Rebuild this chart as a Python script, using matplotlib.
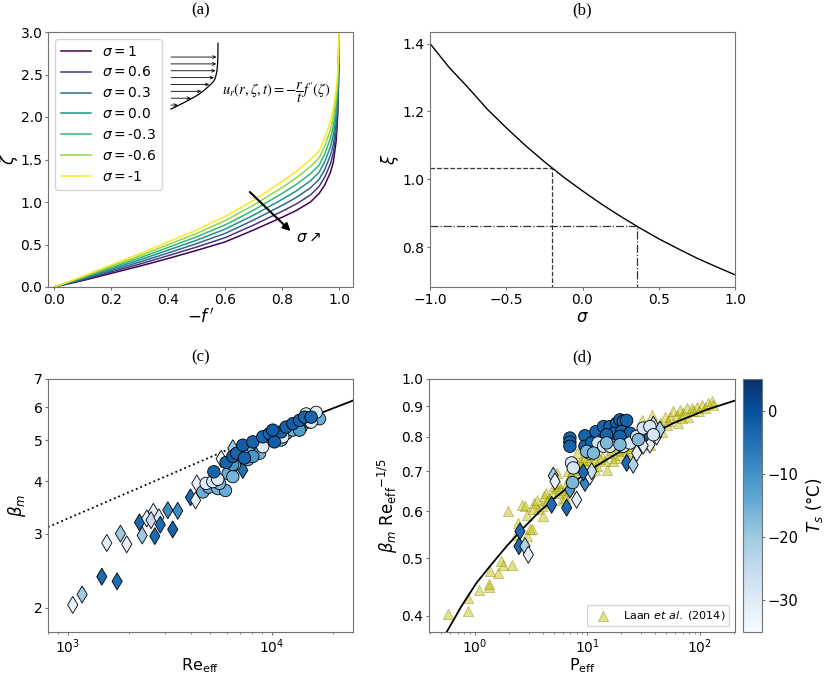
import numpy as np
import matplotlib
matplotlib.use("Agg")
import matplotlib.pyplot as plt
from matplotlib import colors, ticker, cm

# (a) self-similar profiles: -f' on the x axis, zeta for each sigma
mfp = [0, 0.1, 0.2, 0.3, 0.4, 0.5, 0.6, 0.7, 0.8, 0.85, 0.9, 0.93, 0.95, 0.97, 0.98, 0.99, 0.995, 0.998, 1.0]
sigma_labels = ["1", "0.6", "0.3", "0.0", "-0.3", "-0.6", "-1"]
zeta_curves = [
    [0, 0.075, 0.160, 0.245, 0.335, 0.43, 0.53, 0.670, 0.82, 0.900, 1.000, 1.100, 1.200, 1.35, 1.470, 1.72, 2.000, 2.360, 3.0],
    [0, 0.083, 0.177, 0.269, 0.368, 0.47, 0.58, 0.728, 0.89, 0.977, 1.083, 1.183, 1.292, 1.45, 1.575, 1.82, 2.083, 2.425, 3.0],
    [0, 0.092, 0.193, 0.293, 0.400, 0.51, 0.63, 0.787, 0.96, 1.053, 1.167, 1.267, 1.383, 1.55, 1.680, 1.92, 2.167, 2.490, 3.0],
    [0, 0.100, 0.210, 0.318, 0.433, 0.55, 0.68, 0.845, 1.03, 1.130, 1.250, 1.350, 1.475, 1.65, 1.785, 2.02, 2.250, 2.555, 3.0],
    [0, 0.108, 0.227, 0.342, 0.465, 0.59, 0.73, 0.903, 1.10, 1.207, 1.333, 1.433, 1.567, 1.75, 1.890, 2.12, 2.333, 2.620, 3.0],
    [0, 0.117, 0.243, 0.366, 0.498, 0.63, 0.78, 0.962, 1.17, 1.283, 1.417, 1.517, 1.658, 1.85, 1.995, 2.22, 2.417, 2.685, 3.0],
    [0, 0.125, 0.260, 0.390, 0.530, 0.67, 0.83, 1.020, 1.24, 1.360, 1.500, 1.600, 1.750, 1.95, 2.100, 2.32, 2.500, 2.750, 3.0],
]

# (b) xi as a function of sigma
sigma_b = [-1, -0.875, -0.75, -0.625, -0.5, -0.375, -0.25, -0.125, 0, 0.125, 0.25, 0.375, 0.5, 0.625, 0.75, 0.875, 1]
xi_b = [1.400, 1.330, 1.270, 1.207, 1.152, 1.100, 1.052, 1.007, 0.966, 0.927, 0.891, 0.857, 0.825, 0.796, 0.768, 0.743, 0.719]
sigma_marks = [-0.2, 0.36]
xi_marks = [1.033, 0.862]

# (c) beta_m vs Re_eff
c_dia_re = [1058, 1176, 1468, 1745, 1553, 1812, 1946, 2246, 2316, 2440, 2627, 2560, 2795, 2840, 2671,
            3093, 3269, 3459, 3995, 4230, 4290, 5645, 6440, 7210]
c_dia_beta = [2.03, 2.15, 2.37, 2.31, 2.85, 3.00, 2.83, 3.19, 2.97, 3.26, 3.38, 3.23, 3.28, 3.15, 2.96,
              3.41, 3.07, 3.40, 3.66, 3.60, 3.95, 4.52, 4.79, 4.25]
c_dia_T = [-32, -20, -4, -4, -32, -20, -32, -4, -20, -32, -32, -25, -30, -4, -4,
           -9, -3, -9, -4, -32, -32, -33, -20, -5]
c_cir_re = [4590, 4910, 5435, 5930, 5540, 6110, 6440, 7625, 8070, 8710, 9380, 10500, 11750, 12680, 13930,
            15300, 17130, 11120, 8710,
            4765, 5140, 5435, 6560, 7210, 9030, 11320, 14730, 16490, 15590,
            6440, 8070, 13670,
            5200, 5970, 6440, 6730, 7340, 7210, 8070, 9030, 9745, 10300, 11120, 11750, 12680, 13670,
            14460, 15590, 10110]
c_cir_beta = [3.77, 3.87, 3.84, 3.80, 3.95, 4.17, 4.10, 4.50, 4.74, 4.83, 5.01, 5.05, 5.19, 5.29, 5.38,
              5.53, 5.63, 5.01, 4.66,
              3.95, 3.99, 4.04, 4.38, 4.62, 4.83, 5.10, 5.78, 5.83, 5.53,
              4.38, 4.58, 5.29,
              4.21, 4.43, 4.58, 4.66, 4.54, 4.87, 4.96, 5.10, 5.19, 4.96, 5.24, 5.38, 5.48, 5.58,
              5.68, 5.68, 5.29]
c_cir_T = [-15, -15, -16, -15, -17, -15, -16, -15, -16, -15, -16, -15, -15, -16, -15,
           -16, -15, -15, -16,
           -30, -29, -30, -30, -29, -30, -30, -29, -30, -30,
           -11, -11, -12,
           -3, -3, -2, -3, -3, -2, -3, -3, -3, -2, -3, -3, -2, -3,
           -3, -3, -2]
c_fit_re = [800, 7100, 25000]
c_fit_beta = [3.11, 4.91, 6.22]

# (d) beta_m Re_eff^-1/5 vs P_eff
d_tri_p = [0.58, 0.86, 0.86, 1.09, 1.32, 1.36, 1.34, 1.61, 1.69, 1.76, 2.12, 1.98, 2.31, 2.43, 2.60, 2.78, 2.88,
           3.08, 3.19, 3.35, 3.53, 3.66, 3.91, 3.99, 4.10, 4.28, 4.58, 4.64, 4.97, 5.32, 5.32, 5.51, 5.89,
           6.10, 6.31, 6.53, 6.90, 6.98, 7.38, 7.74, 8.01, 8.29, 8.87, 9.18, 9.84, 10.4, 11.3, 11.7, 12.1,
           13.4, 14.3, 15.0, 15.9, 16.7, 17.6, 18.8, 19.5, 20.8, 22.3, 23.1, 23.9, 26.4, 27.4, 29.3, 30.3,
           31.3, 33.6, 35.9, 37.2, 38.5, 41.2, 44.1, 45.6, 48.9, 50.6, 54.1, 57.9, 62.0, 64.2, 66.4, 71.1,
           76.1, 78.7, 84.3, 87.2, 93.4, 103.5, 110.7, 118.6, 127.0, 131.4,
           2.9, 3.3, 4.4, 5.0, 5.7, 6.7, 7.1, 8.5, 9.5, 10.9, 12.8, 16.2, 21.5, 25.0, 33.0, 52.0, 69.0, 98.0]
d_tri_y = [0.403, 0.429, 0.408, 0.443, 0.448, 0.476, 0.452, 0.472, 0.494, 0.488, 0.488, 0.600, 0.548, 0.573,
           0.615, 0.611, 0.544, 0.559, 0.559, 0.619, 0.627, 0.604, 0.611, 0.588, 0.635, 0.643, 0.631, 0.619,
           0.643, 0.656, 0.695, 0.669, 0.627, 0.643, 0.631, 0.669, 0.682, 0.656, 0.704, 0.686, 0.751, 0.718,
           0.713, 0.732, 0.709, 0.732, 0.723, 0.704, 0.713, 0.741, 0.727, 0.704, 0.751, 0.727, 0.737, 0.761,
           0.746, 0.756, 0.741, 0.771, 0.756, 0.781, 0.766, 0.801, 0.854, 0.781, 0.806, 0.776, 0.871, 0.822,
           0.832, 0.843, 0.816, 0.865, 0.838, 0.865, 0.882, 0.871, 0.843, 0.888, 0.876, 0.893, 0.865, 0.893,
           0.882, 0.899, 0.905, 0.893, 0.911, 0.917, 0.905,
           0.590, 0.605, 0.625, 0.660, 0.650, 0.700, 0.690, 0.725, 0.740, 0.745, 0.735, 0.760, 0.765, 0.790,
           0.820, 0.850, 0.860, 0.885]
d_dia_p = [4.97, 5.14, 4.80, 6.53, 6.98, 8.01, 9.50, 10.5, 10.9, 9.18, 2.51, 2.46, 2.78, 2.98,
           22.3, 25.5, 27.4, 35.4, 38.5, 41.2, 35.9, 31.3, 44.1]
d_dia_y = [0.688, 0.673, 0.615, 0.608, 0.652, 0.627, 0.669, 0.686, 0.700, 0.697, 0.555, 0.524, 0.524, 0.507,
           0.723, 0.718, 0.751, 0.801, 0.838, 0.801, 0.776, 0.773, 0.822]
d_dia_T = [-20, -32, -4, -4, -12, -32, -8, -32, -25, -4, -4, -4, -22, -32,
           -4, -22, -32, -4, -25, -32, -32, -32, -22]
d_cir_p = [6.98, 6.98, 6.98, 9.50, 9.50, 11.9, 13.9, 15.85, 18.2, 19.45, 20.8, 22.3, 17.2, 20.1, 23.9,
           13.9, 14.8, 19.45, 10.9,
           7.21, 7.48, 10.4, 12.4, 13.9, 15.85, 20.8, 23.9, 27.4, 31.3, 35.9, 38.5,
           7.38, 9.84, 11.3, 14.8, 19.45, 28.3]
d_cir_y = [0.796, 0.783, 0.771, 0.803, 0.771, 0.816, 0.832, 0.832, 0.843, 0.854, 0.849, 0.852, 0.811, 0.816,
           0.811, 0.792, 0.806, 0.801, 0.781,
           0.723, 0.709, 0.751, 0.781, 0.771, 0.771, 0.771, 0.781, 0.801, 0.827, 0.832, 0.806,
           0.670, 0.756, 0.751, 0.781, 0.776, 0.791]
d_cir_T = [-3] * 19 + [-28] * 12 + [-17] * 6
d_fit_p = [0.56, 0.761, 1.035, 1.359, 1.912, 2.689, 3.78, 5.32, 7.48, 10.1, 14.8, 20.8, 29.3, 41.2, 57.9,
           81.5, 114.6, 205]
d_fit_y = [0.376, 0.416, 0.455, 0.485, 0.524, 0.562, 0.600, 0.635, 0.669, 0.700, 0.732, 0.761, 0.791, 0.816,
           0.843, 0.865, 0.888, 0.920]

plt.rcParams.update({
    "font.size": 10,
    "axes.edgecolor": "0.45",
    "axes.labelsize": 12,
    "axes.labelpad": 1,
    "xtick.color": "0.45",
    "ytick.color": "0.45",
    "xtick.labelcolor": "black",
    "ytick.labelcolor": "black",
    "xtick.labelsize": 10,
    "ytick.labelsize": 10,
    "xtick.major.size": 2.5,
    "ytick.major.size": 2.5,
    "xtick.minor.size": 1.5,
    "ytick.minor.size": 1.5,
    "xtick.major.pad": 1.5,
    "ytick.major.pad": 1.5,
    "xtick.minor.pad": 1.5,
    "ytick.minor.pad": 1.5,
})
title_font = dict(family="Liberation Serif", size=12)
norm = colors.Normalize(vmin=-35, vmax=5)
W, H = 831, 674

def box(l, t, r, b):
    return [l / W, 1 - b / H, (r - l) / W, (b - t) / H]

fig = plt.figure(figsize=(8.31, 6.74), dpi=100)

# ---- (a)
ax = fig.add_axes(box(48, 32, 353, 287))
cols = plt.cm.viridis(np.linspace(0, 1, 7))
for z, lab, c in zip(zeta_curves, sigma_labels, cols):
    ax.plot(mfp, z, color=c, lw=1.1, label=r"$\sigma = $" + lab)
ax.set_xlim(-0.021, 1.049)
ax.set_ylim(0, 3.0)
ax.set_xticks(np.arange(0, 1.01, 0.2))
ax.set_yticks(np.arange(0, 3.01, 0.5))
ax.set_xlabel(r"$-f\,'$")
ax.set_ylabel(r"$\zeta$", labelpad=0)
ax.set_title("(a)", fontdict=title_font, pad=13)
ax.legend(loc="upper left", fontsize=10, handlelength=2.2, borderaxespad=0.5)
ax.annotate("", xy=(0.837, 0.635), xytext=(0.68, 1.14),
            arrowprops=dict(arrowstyle="-|>", color="k", lw=1.5, mutation_scale=11))
ax.text(0.85, 0.58, r"$\sigma\nearrow$", fontsize=11, va="center")
ax.text(0.588, 2.29, r"$u_r(r,\zeta,t) = -\dfrac{r}{t}f'(\zeta)$", fontsize=10.5,
        math_fontfamily="stix", va="center")

# sketch of the radial velocity profile
ins = fig.add_axes(box(171, 52, 218, 109))
ins.axis("off")
ins.plot(mfp, zeta_curves[3], color="k", lw=0.9, clip_on=False)
ins.set_xlim(0, 1.0)
ins.set_ylim(0, 2.6)
for h in np.linspace(0.18, 2.37, 8):
    u = np.interp(h, zeta_curves[3], mfp)
    ins.annotate("", xy=(u - 0.03, h), xytext=(0, h),
                 arrowprops=dict(arrowstyle="->", lw=0.6, color="k", mutation_scale=5,
                                 shrinkA=0, shrinkB=0))

# ---- (b)
ax = fig.add_axes(box(430, 32, 735, 287))
ax.plot(sigma_b, xi_b, color="k", lw=1)
ax.set_xlim(-1, 1)
ax.set_ylim(0.683, 1.434)
y0 = 0.683
ax.plot([-1, sigma_marks[0], sigma_marks[0]], [xi_marks[0], xi_marks[0], y0], "--", color="0.2", lw=0.9)
ax.plot([-1, sigma_marks[1], sigma_marks[1]], [xi_marks[1], xi_marks[1], y0], "-.", color="0.2", lw=0.9)
ax.set_xticks([-1, -0.5, 0, 0.5, 1])
ax.set_yticks([0.8, 1.0, 1.2, 1.4])
ax.set_xlabel(r"$\sigma$")
ax.set_ylabel(r"$\xi$")
ax.set_title("(b)", fontdict=title_font, pad=13)

# ---- (c)
ax = fig.add_axes(box(48, 379, 353, 632))
ax.set_xscale("log")
ax.set_yscale("log")
ax.plot(c_fit_re[:2], c_fit_beta[:2], ":", color="k", lw=1.3)
ax.plot(c_fit_re[1:], c_fit_beta[1:], "-", color="k", lw=1.3)
ax.scatter(c_dia_re, c_dia_beta, c=c_dia_T, cmap="Blues", norm=norm, marker="d", s=75,
           edgecolors="k", linewidths=0.6, zorder=3)
ax.scatter(c_cir_re, c_cir_beta, c=c_cir_T, cmap="Blues", norm=norm, marker="o", s=80,
           edgecolors="k", linewidths=0.6, zorder=3)
ax.set_xlim(800, 25000)
ax.set_ylim(1.75, 7)
ax.set_yticks([2, 3, 4, 5, 6, 7], labels=["2", "3", "4", "5", "6", "7"])
ax.yaxis.set_minor_formatter(ticker.NullFormatter())
ax.set_xlabel(r"$\mathrm{Re}_{\mathrm{eff}}$", fontsize=11.5, labelpad=0)
ax.set_ylabel(r"$\beta_m$", labelpad=4)
ax.set_title("(c)", fontdict=title_font, pad=13)

# ---- (d)
ax = fig.add_axes(box(429, 379, 735, 632))
ax.set_xscale("log")
ax.set_yscale("log")
ax.scatter(d_tri_p, d_tri_y, marker="^", s=55, facecolor="y", edgecolors="#808000",
           linewidths=0.6, alpha=0.45, label=r"Laan $et\ al.$ (2014)", zorder=2)
ax.plot(d_fit_p, d_fit_y, color="k", lw=1.3, zorder=2.5)
ax.scatter(d_dia_p, d_dia_y, c=d_dia_T, cmap="Blues", norm=norm, marker="d", s=75,
           edgecolors="k", linewidths=0.6, zorder=3)
ax.scatter(d_cir_p, d_cir_y, c=d_cir_T, cmap="Blues", norm=norm, marker="o", s=80,
           edgecolors="k", linewidths=0.6, zorder=3)
ax.set_xlim(0.39, 205)
ax.set_ylim(0.376, 1.0)
ax.set_yticks([0.4, 0.5, 0.6, 0.7, 0.8, 0.9, 1.0], labels=["0.4", "0.5", "0.6", "0.7", "0.8", "0.9", "1.0"])
ax.yaxis.set_minor_formatter(ticker.NullFormatter())
ax.set_xlabel(r"$\mathrm{P}_{\mathrm{eff}}$", fontsize=11.5, labelpad=0)
ax.set_ylabel(r"$\beta_m\ {\mathrm{Re}_{\mathrm{eff}}}^{-1/5}$")
ax.set_title("(d)", fontdict=title_font, pad=13)
ax.legend(loc="lower right", fontsize=8)

cax = fig.add_axes(box(743, 379, 762, 632))
cb = fig.colorbar(cm.ScalarMappable(norm=norm, cmap="Blues"), cax=cax)
cb.set_ticks([0, -10, -20, -30])
cb.outline.set_edgecolor("0.45")
cb.ax.tick_params(labelsize=10.5)
cb.set_label(r"$T_s$ (°C)", fontsize=12, labelpad=4)

fig.savefig("out.png", dpi=100)
